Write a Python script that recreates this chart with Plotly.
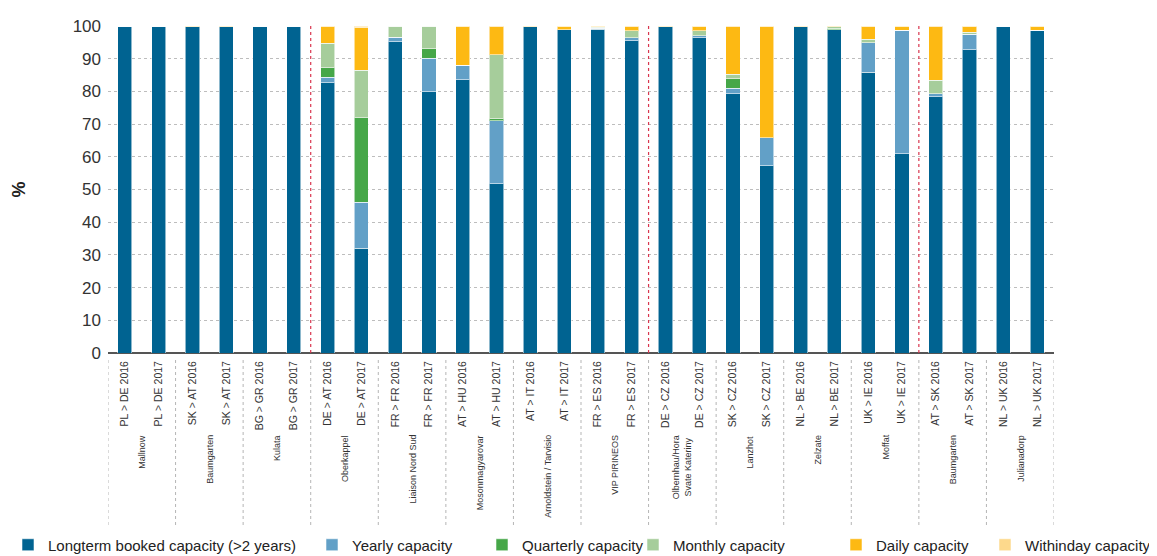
import plotly.graph_objects as go

categories = ["PL > DE 2016", "PL > DE 2017", "SK > AT 2016", "SK > AT 2017",
              "BG > GR 2016", "BG > GR 2017", "DE > AT 2016", "DE > AT 2017",
              "FR > FR 2016", "FR > FR 2017", "AT > HU 2016", "AT > HU 2017",
              "AT > IT 2016", "AT > IT 2017", "FR > ES 2016", "FR > ES 2017",
              "DE > CZ 2016", "DE > CZ 2017", "SK > CZ 2016", "SK > CZ 2017",
              "NL > BE 2016", "NL > BE 2017", "UK > IE 2016", "UK > IE 2017",
              "AT > SK 2016", "AT > SK 2017", "NL > UK 2016", "NL > UK 2017"]

locations = ["Mallnow", "Baumgarten", "Kulata", "Oberkappel", "Liaison Nord Sud",
             "Mosonmagyarovar", "Arnoldstein / Tarvisio", "VIP PIRINEOS",
             "Olbernhau/Hora<br>Svate Kateriny", "Lanzhot", "Zelzate", "Moffat",
             "Baumgarten", "Julianadorp"]

longterm = [100, 100, 99.8, 99.8, 100, 100, 82.7, 32.0, 95.2, 79.9, 83.5, 51.7, 99.7, 98.8,
            99.0, 95.5, 99.8, 96.4, 79.3, 57.2, 99.8, 98.9, 85.9, 60.9, 78.4, 92.7, 100, 98.7]
yearly = [0, 0, 0, 0, 0, 0, 1.7, 14.1, 1.4, 10.2, 4.5, 19.4, 0, 0,
          0.3, 0.9, 0, 0.6, 1.7, 8.6, 0, 0, 9.0, 37.8, 0.9, 4.8, 0, 0]
quarterly = [0, 0, 0, 0, 0, 0, 2.8, 25.8, 0, 2.9, 0, 0.6, 0, 0,
             0, 0, 0, 0, 2.8, 0, 0, 0.4, 0, 0, 0, 0, 0, 0]
monthly = [0, 0, 0, 0, 0, 0, 7.5, 14.6, 3.4, 7.0, 0, 19.5, 0, 0,
           0.3, 2.1, 0, 1.5, 1.4, 0, 0, 0.4, 1.0, 0, 4.1, 0.6, 0, 0]
daily = [0, 0, 0.2, 0.2, 0, 0, 5.3, 13.0, 0, 0, 12.0, 8.5, 0.3, 1.2,
         0.4, 1.3, 0.2, 1.5, 14.5, 34.2, 0.2, 0.3, 4.1, 1.3, 16.4, 1.9, 0, 1.3]
withinday = [0, 0, 0, 0, 0, 0, 0, 0.5, 0, 0, 0, 0.3, 0, 0,
             0, 0.2, 0, 0, 0.3, 0, 0, 0, 0, 0, 0.2, 0, 0, 0]

series_names = ["Longterm booked capacity (>2 years)", "Yearly capacity", "Quarterly capacity",
                "Monthly capacity", "Daily capacity", "Withinday capacity"]
series_values = [longterm, yearly, quarterly, monthly, daily, withinday]
series_colors = ["#006391", "#62a0c7", "#46a748", "#a6cd9b", "#fdb913", "#fdd98c"]

y_ticks = list(range(0, 101, 10))
red_separators_after = [5, 15, 23]  # index of last bar before red separator

# layout constants (in browser-window pixels; the page body adds an 8 px offset)
W, H = 1157, 556
OFF = 8
PL, PR, PT, PB = 108, 1054, 26, 353
legend_item_px = [-3, 312, 482, 633, 836, 985]
legend_mid_px = 545

FONT = "Liberation Sans, Arial, sans-serif"


def py(px):
    return (PB - px) / (PB - PT)


def px_x(px):
    return (px - PL) / (PR - PL)


fig = go.Figure()
for k, (name, vals, col) in enumerate(zip(series_names, series_values, series_colors)):
    lname = "legend" if k == 0 else "legend%d" % (k + 1)
    fig.add_trace(go.Bar(
        x=categories, y=vals, name=name, legend=lname,
        marker=dict(color=col, line=dict(color="rgba(255,255,255,0.55)", width=1)),
        width=0.42,
    ))

shapes = []
n = len(categories)
for k in range(0, n + 1, 2):
    shapes.append(dict(type="line", xref="x", yref="paper", x0=k - 0.5, x1=k - 0.5,
                       y0=py(360), y1=py(525),
                       line=dict(color="#b5b5b5", width=1, dash="dot")))
for i in red_separators_after:
    shapes.append(dict(type="line", xref="x", yref="paper", x0=i + 0.5, x1=i + 0.5,
                       y0=0, y1=1, line=dict(color="#d9364f", width=1.2, dash="dot"),
                       layer="above"))

annotations = []
for j, loc in enumerate(locations):
    annotations.append(dict(x=2 * j + 0.5, y=py(433), xref="x", yref="paper",
                            text=loc, textangle=-90, showarrow=False,
                            xanchor="center", yanchor="top", align="center",
                            font=dict(family=FONT, size=9, color="#333333")))
annotations.append(dict(x=px_x(18), y=0.5, xref="paper", yref="paper", text="<b>%</b>",
                        textangle=-90, showarrow=False, xanchor="center", yanchor="middle",
                        font=dict(family=FONT, size=18, color="#222222")))

legends = {}
for k, lx in enumerate(legend_item_px):
    key = "legend" if k == 0 else "legend%d" % (k + 1)
    legends[key] = dict(orientation="h", xref="container", yref="container",
                        x=(lx - OFF) / W, y=1 - (legend_mid_px - OFF) / H,
                        xanchor="left", yanchor="middle",
                        bgcolor="rgba(0,0,0,0)", borderwidth=0,
                        font=dict(family=FONT, size=15, color="#222222"))

fig.update_layout(
    width=W, height=H,
    margin=dict(l=PL - OFF, r=W - (PR - OFF), t=PT - OFF, b=H - (PB - OFF), autoexpand=False),
    barmode="stack",
    plot_bgcolor="white", paper_bgcolor="white",
    font=dict(family=FONT, color="#333333"),
    shapes=shapes, annotations=annotations,
    showlegend=True,
    xaxis=dict(type="category", tickangle=-90, ticks="", showgrid=False,
               showline=False, zeroline=False, ticklabelstandoff=5, automargin=False,
               tickfont=dict(family=FONT, size=10.5, color="#333333"),
               range=[-0.5, n - 0.5]),
    yaxis=dict(range=[0, 100], tickvals=y_ticks, showgrid=True,
               gridcolor="#bdbdbd", griddash="dot", gridwidth=1,
               zeroline=True, zerolinecolor="#555555", zerolinewidth=1.5,
               showline=False, ticks="", ticklabelstandoff=6, automargin=False,
               tickfont=dict(family=FONT, size=17, color="#333333")),
    **legends,
)

fig.write_html("out.html")
